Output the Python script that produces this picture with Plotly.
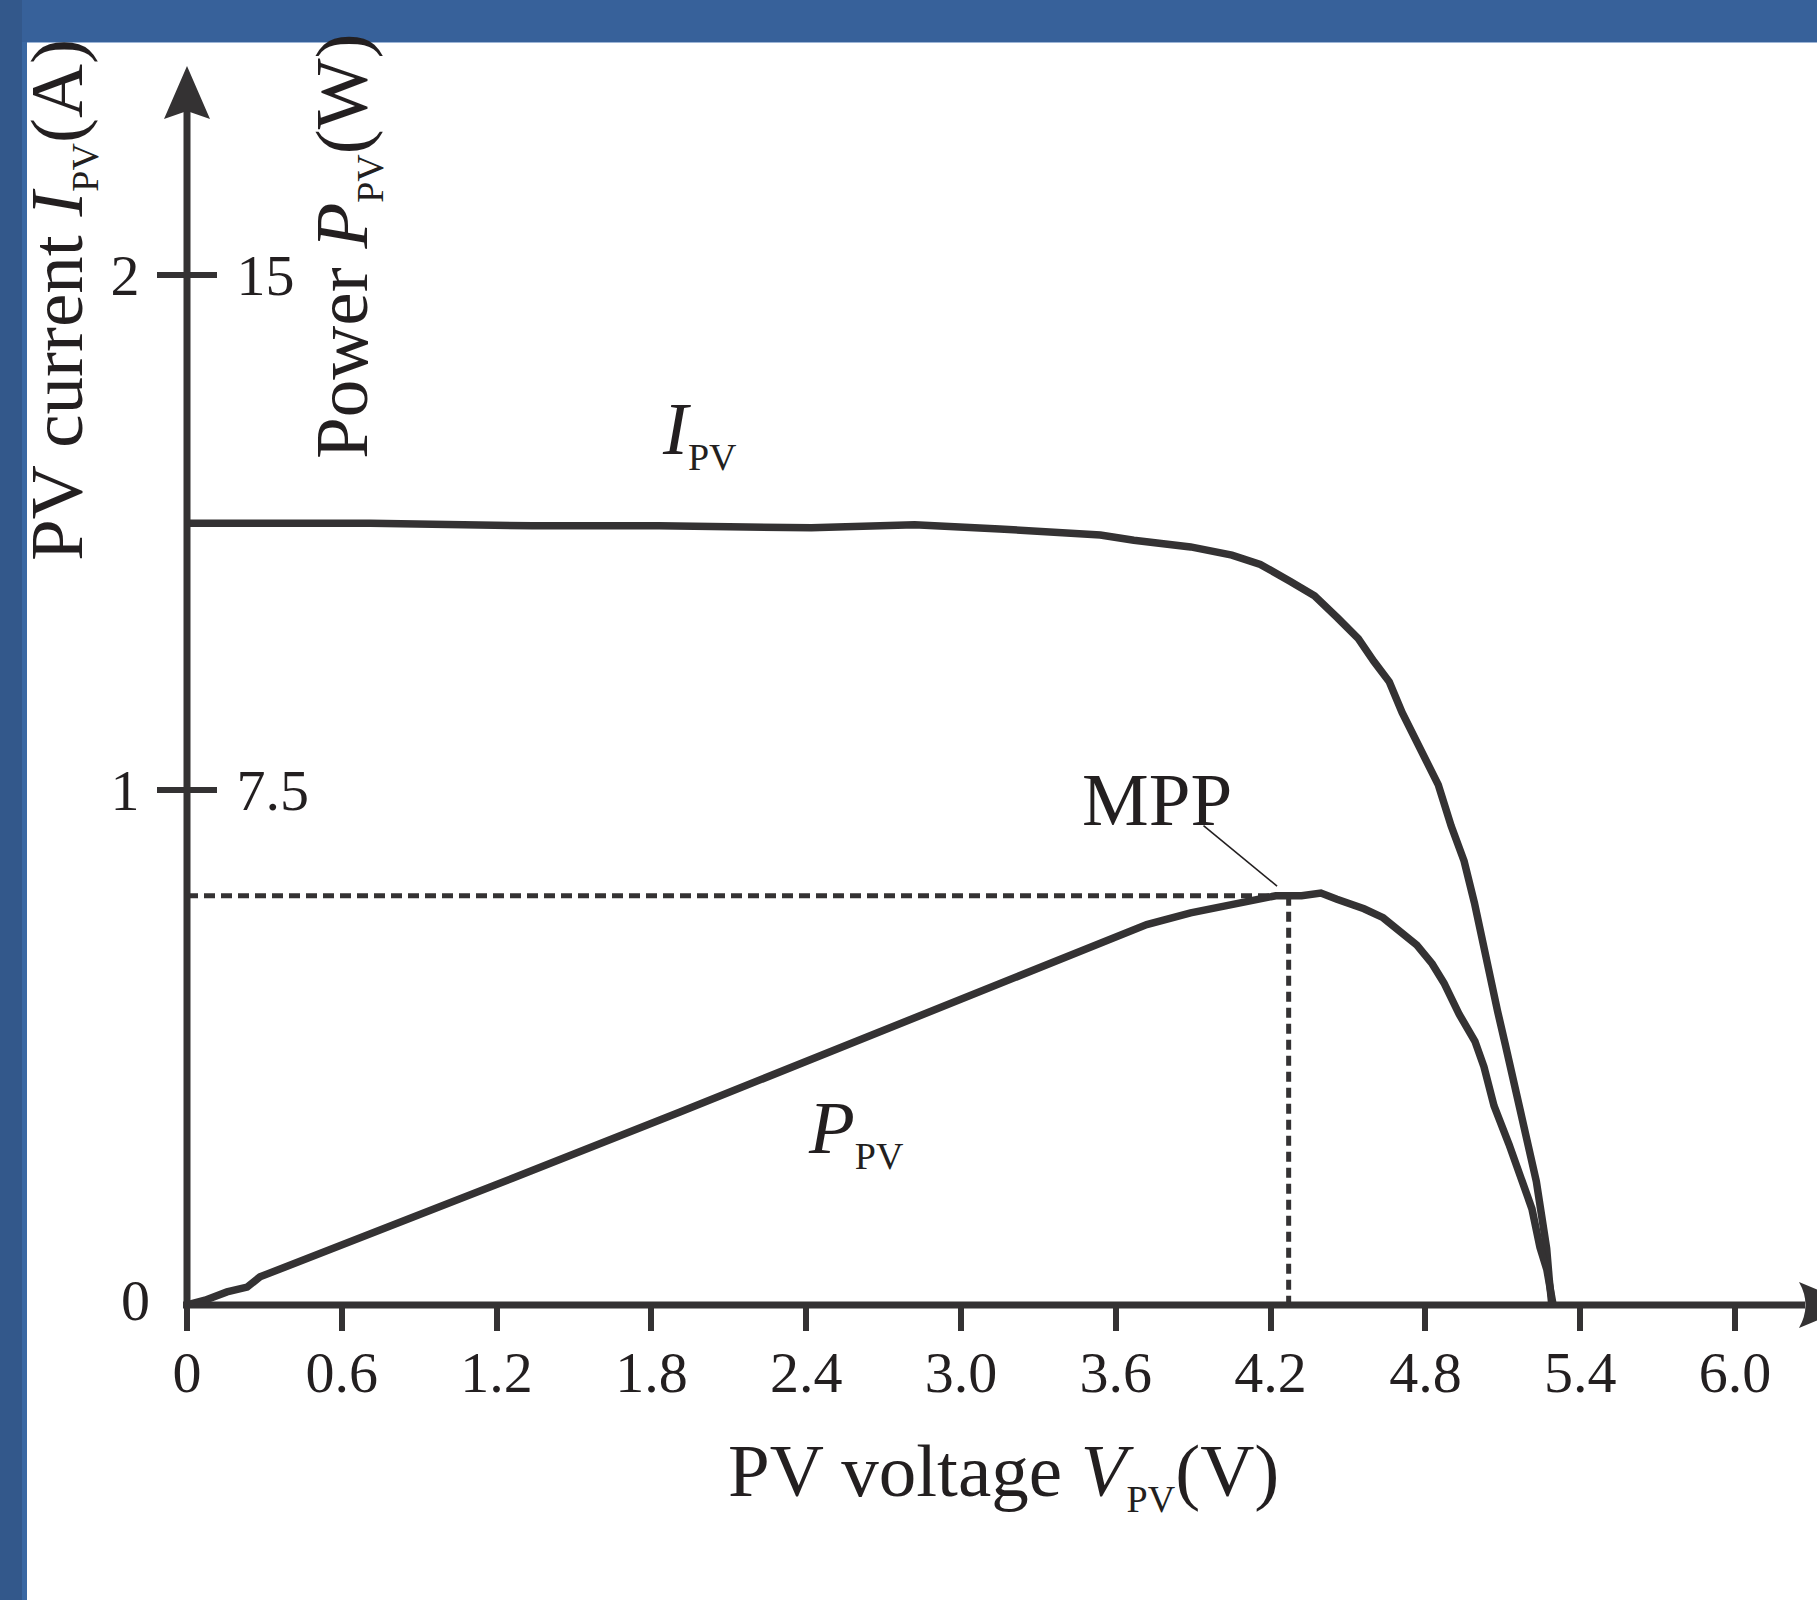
import plotly.graph_objects as go

# ---------------- data ----------------
voltage_I = [0.00, 0.71, 1.34, 1.83, 2.42, 2.82, 3.15, 3.54, 3.67, 3.89, 4.05, 4.16,
             4.28, 4.37, 4.46, 4.54, 4.60, 4.66, 4.71, 4.78, 4.85, 4.90, 4.95, 4.99,
             5.02, 5.05, 5.08, 5.11, 5.14, 5.17, 5.20, 5.23, 5.25, 5.27, 5.28, 5.29]
current_I = [1.518, 1.518, 1.513, 1.513, 1.509, 1.515, 1.507, 1.495, 1.485, 1.472, 1.456, 1.438,
             1.404, 1.377, 1.334, 1.294, 1.250, 1.210, 1.150, 1.078, 1.010, 0.930, 0.862, 0.781,
             0.705, 0.640, 0.570, 0.505, 0.440, 0.373, 0.310, 0.240, 0.175, 0.110, 0.050, 0.000]

voltage_P = [0.00, 0.07, 0.155, 0.233, 0.283, 0.62, 1.264, 1.911, 2.558, 3.202, 3.45, 3.72,
             3.89, 4.04, 4.16, 4.22, 4.32, 4.395, 4.457, 4.562, 4.636, 4.709, 4.767, 4.826,
             4.872, 4.930, 4.992, 5.027, 5.066, 5.124, 5.167, 5.213, 5.244, 5.271, 5.295]
power_P = [0.00, 0.07, 0.19, 0.26, 0.41, 0.90, 1.85, 2.81, 3.79, 4.78, 5.15, 5.54,
           5.71, 5.82, 5.89, 5.96, 5.96, 6.00, 5.91, 5.77, 5.64, 5.43, 5.24, 4.97,
           4.69, 4.24, 3.84, 3.47, 2.90, 2.34, 1.89, 1.40, 0.84, 0.51, 0.00]

mpp_voltage = 4.27
mpp_power = 5.96
mpp_leader = ([3.94, 4.225], [6.98, 6.10])   # MPP label leader line (V, W)

x_tick_vals = [0, 0.6, 1.2, 1.8, 2.4, 3.0, 3.6, 4.2, 4.8, 5.4, 6.0]
x_tick_text = ["0", "0.6", "1.2", "1.8", "2.4", "3.0", "3.6", "4.2", "4.8", "5.4", "6.0"]
i_tick_vals = [1, 2]
i_tick_text = ["1", "2"]
p_tick_vals = [7.5, 15]
p_tick_text = ["7.5", "15"]
watts_per_amp = 7.5

# ---------------- layout geometry ----------------
W, H = 1817, 1600
L, R, T, B = 187, 0, 100, 295
PW = W - L - R
PH = H - T - B
PX_PER_V = 258.0
PX_PER_A = 515.0
x_max = PW / PX_PER_V
i_max = PH / PX_PER_A
p_max = i_max * watts_per_amp

LINE = "#343233"
TEXT = "#231f20"
FONT = "Liberation Serif"
BLUE_TOP = "#37619a"
BLUE_LEFT = "#33588b"
BLUE_LEFT_IN = "#3a68a3"


def px(x):
    return (x - L) / PW


def py(y):
    return (H - B - y) / PH


fig = go.Figure()

# dashed MPP guide lines
fig.add_trace(go.Scatter(x=[0, mpp_voltage], y=[mpp_power, mpp_power], yaxis="y2",
                         mode="lines", line=dict(color=LINE, width=5, dash="11px,6px"),
                         hoverinfo="skip", showlegend=False))
fig.add_trace(go.Scatter(x=[mpp_voltage, mpp_voltage], y=[mpp_power, 0], yaxis="y2",
                         mode="lines", line=dict(color=LINE, width=5, dash="10px,6px"),
                         hoverinfo="skip", showlegend=False))

# curves
fig.add_trace(go.Scatter(x=voltage_I, y=current_I, yaxis="y", mode="lines",
                         line=dict(color=LINE, width=7.5), name="I_PV", showlegend=False))
fig.add_trace(go.Scatter(x=voltage_P, y=power_P, yaxis="y2", mode="lines",
                         line=dict(color=LINE, width=7.5), name="P_PV", showlegend=False))
# MPP leader line
fig.add_trace(go.Scatter(x=mpp_leader[0], y=mpp_leader[1], yaxis="y2", mode="lines",
                         line=dict(color=TEXT, width=1.6), hoverinfo="skip", showlegend=False))

tickfont = dict(family=FONT, size=58, color=TEXT)

shapes = [
    # x axis line
    dict(type="line", xref="paper", yref="paper", x0=px(183), y0=py(1305), x1=px(1805), y1=py(1305),
         line=dict(color=LINE, width=7)),
    # y axis line
    dict(type="line", xref="paper", yref="paper", x0=px(187), y0=py(1308), x1=px(187), y1=py(100),
         line=dict(color=LINE, width=7)),
    # y arrow head
    dict(type="path", xref="paper", yref="paper", line=dict(width=0), fillcolor=LINE,
         path=f"M {px(187)},{py(66)} L {px(210)},{py(119)} L {px(187)},{py(111)} L {px(164)},{py(119)} Z"),
    # x arrow head
    dict(type="path", xref="paper", yref="paper", line=dict(width=0), fillcolor=LINE,
         path=f"M {px(1799)},{py(1282)} Q {px(1812)},{py(1305)} {px(1799)},{py(1328)} L {px(1855)},{py(1305)} Z"),
    # blue frame
    dict(type="rect", xref="paper", yref="paper", x0=px(0), x1=px(W), y0=py(42), y1=py(0),
         line=dict(width=0), fillcolor=BLUE_TOP, layer="above"),
    dict(type="line", xref="paper", yref="paper", x0=px(0), x1=px(W), y0=py(42.5), y1=py(42.5),
         line=dict(color="#9db5d6", width=1.2), layer="above"),
    dict(type="rect", xref="paper", yref="paper", x0=px(0), x1=px(22), y0=py(H), y1=py(0),
         line=dict(width=0), fillcolor=BLUE_LEFT, layer="above"),
    dict(type="rect", xref="paper", yref="paper", x0=px(22), x1=px(27), y0=py(H), y1=py(42),
         line=dict(width=0), fillcolor=BLUE_LEFT_IN, layer="above"),
]

big = dict(family=FONT, size=75, color=TEXT)
SUB = "<sub><span style='font-size:38px'>PV</span></sub>"

annotations = [
    dict(text="PV voltage <i>V</i>" + SUB + "(V)", x=px(1003), y=py(1474),
         xanchor="center", yanchor="middle"),
    dict(text="PV current <i>I</i>" + SUB + "(A)", x=px(60), y=py(300), textangle=-90,
         xanchor="center", yanchor="middle"),
    dict(text="Power <i>P</i>" + SUB + "(W)", x=px(345), y=py(246), textangle=-90,
         xanchor="center", yanchor="middle"),
    dict(text="<i>I</i>" + SUB, x=px(660), y=py(432), xanchor="left", yanchor="middle"),
    dict(text="<i>P</i>" + SUB, x=px(806), y=py(1131), xanchor="left", yanchor="middle"),
    dict(text="MPP", x=px(1080), y=py(800), xanchor="left", yanchor="middle"),
    dict(text="0", x=px(152), y=py(1300), xanchor="right", yanchor="middle",
         font=tickfont),
]
for a in annotations:
    a.setdefault("font", big)
    a.update(xref="paper", yref="paper", showarrow=False)

fig.update_layout(
    width=W, height=H,
    margin=dict(l=L, r=R, t=T, b=B, pad=0),
    paper_bgcolor="white", plot_bgcolor="white",
    showlegend=False,
    xaxis=dict(range=[0, x_max], tickvals=x_tick_vals, ticktext=x_tick_text,
               ticks="outside", ticklen=25, tickwidth=6, tickcolor=LINE,
               showgrid=False, zeroline=False, showline=False,
               tickfont=tickfont, ticklabelstandoff=-9),
    yaxis=dict(range=[0, i_max], tickvals=i_tick_vals, ticktext=i_tick_text,
               ticks="outside", ticklen=29, tickwidth=6, tickcolor=LINE,
               showgrid=False, zeroline=False, showline=False,
               tickfont=tickfont, ticklabelstandoff=6),
    yaxis2=dict(range=[0, p_max], tickvals=p_tick_vals, ticktext=p_tick_text,
                overlaying="y", side="right", anchor="free", position=0,
                ticks="outside", ticklen=29, tickwidth=6, tickcolor=LINE,
                showgrid=False, zeroline=False, showline=False,
                tickfont=tickfont, ticklabelstandoff=8),
    shapes=shapes,
    annotations=annotations,
)

fig.write_html("out.html")
